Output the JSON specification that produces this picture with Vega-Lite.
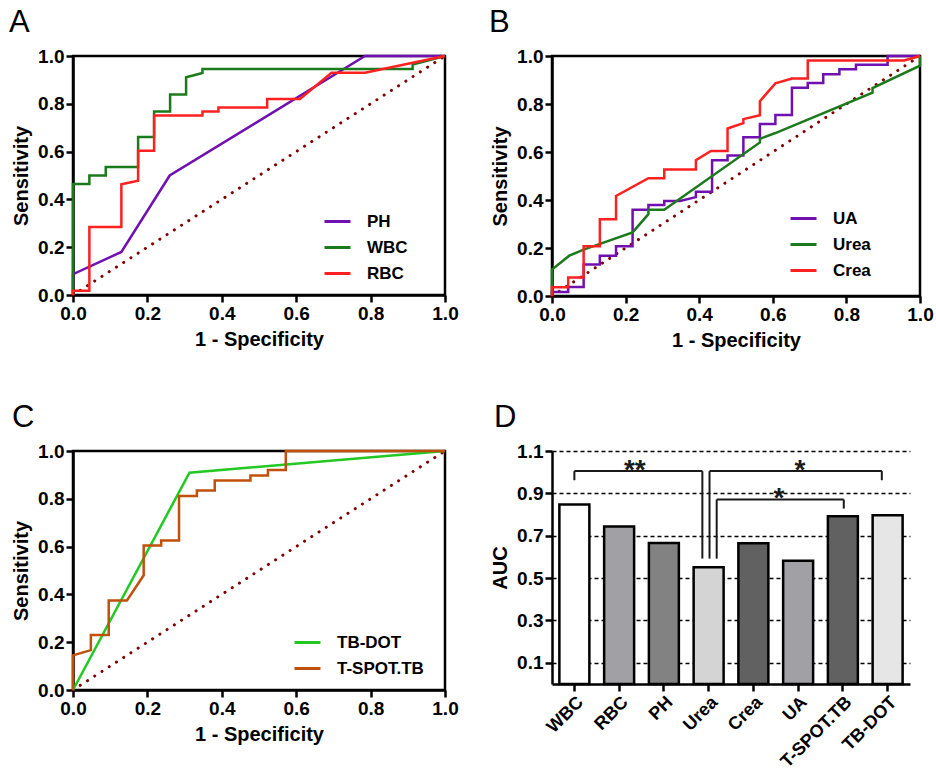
{
  "$schema": "https://vega.github.io/schema/vega-lite/v6.json",
  "autosize": {"type": "pad"},
  "padding": {"left": 7, "top": 5, "right": 0, "bottom": 0},
  "background": "white",
  "datasets": {
    "rocA": [
      {"s": "PH", "i": 0, "x": 0, "y": 0}, {"s": "PH", "i": 1, "x": 0, "y": 0.087}, {"s": "PH", "i": 2, "x": 0.13, "y": 0.18},
      {"s": "PH", "i": 3, "x": 0.26, "y": 0.5}, {"s": "PH", "i": 4, "x": 0.785, "y": 1}, {"s": "PH", "i": 5, "x": 1, "y": 1},
      {"s": "WBC", "i": 0, "x": 0, "y": 0}, {"s": "WBC", "i": 1, "x": 0, "y": 0.464}, {"s": "WBC", "i": 2, "x": 0.044, "y": 0.464},
      {"s": "WBC", "i": 3, "x": 0.044, "y": 0.5}, {"s": "WBC", "i": 4, "x": 0.088, "y": 0.5}, {"s": "WBC", "i": 5, "x": 0.088, "y": 0.536},
      {"s": "WBC", "i": 6, "x": 0.175, "y": 0.536}, {"s": "WBC", "i": 7, "x": 0.175, "y": 0.661}, {"s": "WBC", "i": 8, "x": 0.218, "y": 0.661},
      {"s": "WBC", "i": 9, "x": 0.218, "y": 0.768}, {"s": "WBC", "i": 10, "x": 0.261, "y": 0.768}, {"s": "WBC", "i": 11, "x": 0.261, "y": 0.839},
      {"s": "WBC", "i": 12, "x": 0.304, "y": 0.839}, {"s": "WBC", "i": 13, "x": 0.304, "y": 0.911}, {"s": "WBC", "i": 14, "x": 0.348, "y": 0.929},
      {"s": "WBC", "i": 15, "x": 0.348, "y": 0.946}, {"s": "WBC", "i": 16, "x": 0.913, "y": 0.946}, {"s": "WBC", "i": 17, "x": 0.913, "y": 0.964},
      {"s": "WBC", "i": 18, "x": 1, "y": 1},
      {"s": "RBC", "i": 0, "x": 0, "y": 0}, {"s": "RBC", "i": 1, "x": 0, "y": 0.018}, {"s": "RBC", "i": 2, "x": 0.044, "y": 0.018},
      {"s": "RBC", "i": 3, "x": 0.044, "y": 0.284}, {"s": "RBC", "i": 4, "x": 0.13, "y": 0.284}, {"s": "RBC", "i": 5, "x": 0.13, "y": 0.463},
      {"s": "RBC", "i": 6, "x": 0.175, "y": 0.478}, {"s": "RBC", "i": 7, "x": 0.175, "y": 0.604}, {"s": "RBC", "i": 8, "x": 0.218, "y": 0.604},
      {"s": "RBC", "i": 9, "x": 0.218, "y": 0.751}, {"s": "RBC", "i": 10, "x": 0.348, "y": 0.751}, {"s": "RBC", "i": 11, "x": 0.348, "y": 0.768},
      {"s": "RBC", "i": 12, "x": 0.391, "y": 0.768}, {"s": "RBC", "i": 13, "x": 0.391, "y": 0.784}, {"s": "RBC", "i": 14, "x": 0.522, "y": 0.784},
      {"s": "RBC", "i": 15, "x": 0.522, "y": 0.82}, {"s": "RBC", "i": 16, "x": 0.61, "y": 0.82}, {"s": "RBC", "i": 17, "x": 0.695, "y": 0.93},
      {"s": "RBC", "i": 18, "x": 0.785, "y": 0.93}, {"s": "RBC", "i": 19, "x": 1, "y": 1}
    ],
    "rocB": [
      {"s": "UA", "i": 0, "x": 0, "y": 0}, {"s": "UA", "i": 1, "x": 0, "y": 0.017}, {"s": "UA", "i": 2, "x": 0.044, "y": 0.017},
      {"s": "UA", "i": 3, "x": 0.044, "y": 0.037}, {"s": "UA", "i": 4, "x": 0.086, "y": 0.037}, {"s": "UA", "i": 5, "x": 0.086, "y": 0.131},
      {"s": "UA", "i": 6, "x": 0.13, "y": 0.131}, {"s": "UA", "i": 7, "x": 0.13, "y": 0.168}, {"s": "UA", "i": 8, "x": 0.174, "y": 0.168},
      {"s": "UA", "i": 9, "x": 0.174, "y": 0.207}, {"s": "UA", "i": 10, "x": 0.219, "y": 0.207}, {"s": "UA", "i": 11, "x": 0.219, "y": 0.359},
      {"s": "UA", "i": 12, "x": 0.262, "y": 0.359}, {"s": "UA", "i": 13, "x": 0.262, "y": 0.379}, {"s": "UA", "i": 14, "x": 0.305, "y": 0.379},
      {"s": "UA", "i": 15, "x": 0.305, "y": 0.396}, {"s": "UA", "i": 16, "x": 0.348, "y": 0.396}, {"s": "UA", "i": 17, "x": 0.391, "y": 0.412},
      {"s": "UA", "i": 18, "x": 0.391, "y": 0.434}, {"s": "UA", "i": 19, "x": 0.435, "y": 0.434}, {"s": "UA", "i": 20, "x": 0.435, "y": 0.566},
      {"s": "UA", "i": 21, "x": 0.477, "y": 0.566}, {"s": "UA", "i": 22, "x": 0.477, "y": 0.585}, {"s": "UA", "i": 23, "x": 0.52, "y": 0.585},
      {"s": "UA", "i": 24, "x": 0.52, "y": 0.661}, {"s": "UA", "i": 25, "x": 0.565, "y": 0.661}, {"s": "UA", "i": 26, "x": 0.565, "y": 0.717},
      {"s": "UA", "i": 27, "x": 0.607, "y": 0.717}, {"s": "UA", "i": 28, "x": 0.607, "y": 0.754}, {"s": "UA", "i": 29, "x": 0.652, "y": 0.754},
      {"s": "UA", "i": 30, "x": 0.652, "y": 0.868}, {"s": "UA", "i": 31, "x": 0.695, "y": 0.868}, {"s": "UA", "i": 32, "x": 0.695, "y": 0.888},
      {"s": "UA", "i": 33, "x": 0.737, "y": 0.888}, {"s": "UA", "i": 34, "x": 0.737, "y": 0.924}, {"s": "UA", "i": 35, "x": 0.781, "y": 0.924},
      {"s": "UA", "i": 36, "x": 0.781, "y": 0.945}, {"s": "UA", "i": 37, "x": 0.826, "y": 0.945}, {"s": "UA", "i": 38, "x": 0.826, "y": 0.964},
      {"s": "UA", "i": 39, "x": 0.912, "y": 0.964}, {"s": "UA", "i": 40, "x": 0.912, "y": 1}, {"s": "UA", "i": 41, "x": 1, "y": 1},
      {"s": "Urea", "i": 0, "x": 0, "y": 0}, {"s": "Urea", "i": 1, "x": 0, "y": 0.11}, {"s": "Urea", "i": 2, "x": 0.047, "y": 0.168},
      {"s": "Urea", "i": 3, "x": 0.086, "y": 0.193}, {"s": "Urea", "i": 4, "x": 0.219, "y": 0.265}, {"s": "Urea", "i": 5, "x": 0.262, "y": 0.341},
      {"s": "Urea", "i": 6, "x": 0.262, "y": 0.359}, {"s": "Urea", "i": 7, "x": 0.305, "y": 0.359}, {"s": "Urea", "i": 8, "x": 0.565, "y": 0.64},
      {"s": "Urea", "i": 9, "x": 0.565, "y": 0.655}, {"s": "Urea", "i": 10, "x": 0.607, "y": 0.679}, {"s": "Urea", "i": 11, "x": 0.871, "y": 0.847},
      {"s": "Urea", "i": 12, "x": 0.871, "y": 0.866}, {"s": "Urea", "i": 13, "x": 1, "y": 0.96}, {"s": "Urea", "i": 14, "x": 1, "y": 1},
      {"s": "Crea", "i": 0, "x": 0, "y": 0}, {"s": "Crea", "i": 1, "x": 0, "y": 0.036}, {"s": "Crea", "i": 2, "x": 0.044, "y": 0.036},
      {"s": "Crea", "i": 3, "x": 0.044, "y": 0.077}, {"s": "Crea", "i": 4, "x": 0.086, "y": 0.077}, {"s": "Crea", "i": 5, "x": 0.086, "y": 0.207},
      {"s": "Crea", "i": 6, "x": 0.13, "y": 0.207}, {"s": "Crea", "i": 7, "x": 0.13, "y": 0.32}, {"s": "Crea", "i": 8, "x": 0.174, "y": 0.32},
      {"s": "Crea", "i": 9, "x": 0.174, "y": 0.417}, {"s": "Crea", "i": 10, "x": 0.262, "y": 0.491}, {"s": "Crea", "i": 11, "x": 0.305, "y": 0.491},
      {"s": "Crea", "i": 12, "x": 0.305, "y": 0.527}, {"s": "Crea", "i": 13, "x": 0.391, "y": 0.527}, {"s": "Crea", "i": 14, "x": 0.391, "y": 0.566},
      {"s": "Crea", "i": 15, "x": 0.432, "y": 0.604}, {"s": "Crea", "i": 16, "x": 0.477, "y": 0.604}, {"s": "Crea", "i": 17, "x": 0.477, "y": 0.698},
      {"s": "Crea", "i": 18, "x": 0.52, "y": 0.72}, {"s": "Crea", "i": 19, "x": 0.52, "y": 0.737}, {"s": "Crea", "i": 20, "x": 0.565, "y": 0.753},
      {"s": "Crea", "i": 21, "x": 0.565, "y": 0.812}, {"s": "Crea", "i": 22, "x": 0.607, "y": 0.886}, {"s": "Crea", "i": 23, "x": 0.652, "y": 0.906},
      {"s": "Crea", "i": 24, "x": 0.695, "y": 0.906}, {"s": "Crea", "i": 25, "x": 0.695, "y": 0.981}, {"s": "Crea", "i": 26, "x": 0.957, "y": 0.981},
      {"s": "Crea", "i": 27, "x": 1, "y": 1}
    ],
    "rocC": [
      {"s": "TB-DOT", "i": 0, "x": 0, "y": 0}, {"s": "TB-DOT", "i": 1, "x": 0.313, "y": 0.909}, {"s": "TB-DOT", "i": 2, "x": 1, "y": 1},
      {"s": "T-SPOT.TB", "i": 0, "x": 0, "y": 0}, {"s": "T-SPOT.TB", "i": 1, "x": 0, "y": 0.145}, {"s": "T-SPOT.TB", "i": 2, "x": 0.048, "y": 0.167},
      {"s": "T-SPOT.TB", "i": 3, "x": 0.048, "y": 0.23}, {"s": "T-SPOT.TB", "i": 4, "x": 0.096, "y": 0.23}, {"s": "T-SPOT.TB", "i": 5, "x": 0.096, "y": 0.375},
      {"s": "T-SPOT.TB", "i": 6, "x": 0.145, "y": 0.375}, {"s": "T-SPOT.TB", "i": 7, "x": 0.19, "y": 0.48}, {"s": "T-SPOT.TB", "i": 8, "x": 0.19, "y": 0.605},
      {"s": "T-SPOT.TB", "i": 9, "x": 0.237, "y": 0.605}, {"s": "T-SPOT.TB", "i": 10, "x": 0.237, "y": 0.626}, {"s": "T-SPOT.TB", "i": 11, "x": 0.285, "y": 0.626},
      {"s": "T-SPOT.TB", "i": 12, "x": 0.285, "y": 0.812}, {"s": "T-SPOT.TB", "i": 13, "x": 0.333, "y": 0.812}, {"s": "T-SPOT.TB", "i": 14, "x": 0.333, "y": 0.835},
      {"s": "T-SPOT.TB", "i": 15, "x": 0.381, "y": 0.835}, {"s": "T-SPOT.TB", "i": 16, "x": 0.381, "y": 0.877}, {"s": "T-SPOT.TB", "i": 17, "x": 0.477, "y": 0.877},
      {"s": "T-SPOT.TB", "i": 18, "x": 0.477, "y": 0.898}, {"s": "T-SPOT.TB", "i": 19, "x": 0.524, "y": 0.898}, {"s": "T-SPOT.TB", "i": 20, "x": 0.524, "y": 0.92},
      {"s": "T-SPOT.TB", "i": 21, "x": 0.572, "y": 0.92}, {"s": "T-SPOT.TB", "i": 22, "x": 0.572, "y": 1}, {"s": "T-SPOT.TB", "i": 23, "x": 1, "y": 1}
    ],
    "diag": [{"x": 0, "y": 0}, {"x": 1, "y": 1}],
    "auc": [
      {"test": "WBC", "auc": 0.847}, {"test": "RBC", "auc": 0.744}, {"test": "PH", "auc": 0.666},
      {"test": "Urea", "auc": 0.551}, {"test": "Crea", "auc": 0.664}, {"test": "UA", "auc": 0.582},
      {"test": "T-SPOT.TB", "auc": 0.792}, {"test": "TB-DOT", "auc": 0.797}
    ],
    "brackets": [
      {"x": 0, "x2": 2.86, "y": 1.005, "y2": 1.005}, {"x": 0, "x2": 0, "y": 1.005, "y2": 0.962}, {"x": 2.86, "x2": 2.86, "y": 1.005, "y2": 0.592},
      {"x": 3.02, "x2": 6.87, "y": 1.005, "y2": 1.005}, {"x": 3.02, "x2": 3.02, "y": 1.005, "y2": 0.592}, {"x": 6.87, "x2": 6.87, "y": 1.005, "y2": 0.962},
      {"x": 3.18, "x2": 6.02, "y": 0.871, "y2": 0.871}, {"x": 3.18, "x2": 3.18, "y": 0.871, "y2": 0.592}, {"x": 6.02, "x2": 6.02, "y": 0.871, "y2": 0.828}
    ],
    "stars": [
      {"x": 1.35, "y": 0.968, "label": "**"}, {"x": 5.04, "y": 0.968, "label": "*"}, {"x": 4.57, "y": 0.835, "label": "*"}
    ]
  },
  "columns": 2,
  "bounds": "flush",
  "spacing": {"row": 155, "column": 107},
  "resolve": {"scale": {"color": "independent"}, "legend": {"color": "independent"}},
  "concat": [
    {
      "title": {"text": "A", "dx": -64},
      "width": 372,
      "height": 239,
      "layer": [
        {
          "data": {"name": "diag"},
          "mark": {"type": "line", "color": "#800000", "strokeWidth": 3, "strokeDash": [0.1, 8.5], "strokeCap": "round"},
          "encoding": {
            "x": {"field": "x", "type": "quantitative"},
            "y": {"field": "y", "type": "quantitative"}
          }
        },
        {
          "data": {"name": "rocA"},
          "mark": {"type": "line", "strokeWidth": 2.5},
          "encoding": {
            "x": {"field": "x", "type": "quantitative", "scale": {"domain": [0, 1], "nice": false}, "axis": {"values": [0, 0.2, 0.4, 0.6, 0.8, 1], "format": ".1f", "title": "1 - Specificity"}},
            "y": {"field": "y", "type": "quantitative", "scale": {"domain": [0, 1], "nice": false}, "axis": {"values": [0, 0.2, 0.4, 0.6, 0.8, 1], "format": ".1f", "title": "Sensitivity"}},
            "color": {"field": "s", "type": "nominal", "scale": {"domain": ["PH", "WBC", "RBC"], "range": ["#7010B0", "#1B7A1B", "#FF2020"]},
              "legend": {"title": null, "orient": "none", "legendX": 250, "legendY": 151}},
            "order": {"field": "i", "type": "quantitative"}
          }
        }
      ]
    },
    {
      "title": {"text": "B", "dx": -63},
      "width": 368,
      "height": 240,
      "layer": [
        {
          "data": {"name": "diag"},
          "mark": {"type": "line", "color": "#800000", "strokeWidth": 3, "strokeDash": [0.1, 8.5], "strokeCap": "round"},
          "encoding": {
            "x": {"field": "x", "type": "quantitative"},
            "y": {"field": "y", "type": "quantitative"}
          }
        },
        {
          "data": {"name": "rocB"},
          "mark": {"type": "line", "strokeWidth": 2.5},
          "encoding": {
            "x": {"field": "x", "type": "quantitative", "scale": {"domain": [0, 1], "nice": false}, "axis": {"values": [0, 0.2, 0.4, 0.6, 0.8, 1], "format": ".1f", "title": "1 - Specificity"}},
            "y": {"field": "y", "type": "quantitative", "scale": {"domain": [0, 1], "nice": false}, "axis": {"values": [0, 0.2, 0.4, 0.6, 0.8, 1], "format": ".1f", "title": "Sensitivity"}},
            "color": {"field": "s", "type": "nominal", "scale": {"domain": ["UA", "Urea", "Crea"], "range": ["#7010B0", "#1B7A1B", "#FF2020"]},
              "legend": {"title": null, "orient": "none", "legendX": 237, "legendY": 148}},
            "order": {"field": "i", "type": "quantitative"}
          }
        }
      ]
    },
    {
      "title": {"text": "C", "dx": -61},
      "width": 372,
      "height": 239,
      "layer": [
        {
          "data": {"name": "diag"},
          "mark": {"type": "line", "color": "#800000", "strokeWidth": 3, "strokeDash": [0.1, 8.5], "strokeCap": "round"},
          "encoding": {
            "x": {"field": "x", "type": "quantitative"},
            "y": {"field": "y", "type": "quantitative"}
          }
        },
        {
          "data": {"name": "rocC"},
          "mark": {"type": "line", "strokeWidth": 2.5},
          "encoding": {
            "x": {"field": "x", "type": "quantitative", "scale": {"domain": [0, 1], "nice": false}, "axis": {"values": [0, 0.2, 0.4, 0.6, 0.8, 1], "format": ".1f", "title": "1 - Specificity"}},
            "y": {"field": "y", "type": "quantitative", "scale": {"domain": [0, 1], "nice": false}, "axis": {"values": [0, 0.2, 0.4, 0.6, 0.8, 1], "format": ".1f", "title": "Sensitivity"}},
            "color": {"field": "s", "type": "nominal", "scale": {"domain": ["TB-DOT", "T-SPOT.TB"], "range": ["#22C922", "#C0500A"]},
              "legend": {"title": null, "orient": "none", "legendX": 220, "legendY": 177}},
            "order": {"field": "i", "type": "quantitative"}
          }
        }
      ]
    },
    {
      "title": {"text": "D", "dx": -58},
      "width": 358,
      "height": 233,
      "view": {"stroke": null},
      "layer": [
        {
          "data": {"name": "auc"},
          "mark": {"type": "bar", "stroke": "black", "strokeWidth": 2.5},
          "encoding": {
            "x": {"field": "test", "type": "nominal", "sort": null, "scale": {"paddingInner": 0.33, "paddingOuter": 0.165},
              "axis": {"title": null, "labelAngle": -45, "labelFontSize": 18, "bandPosition": 0.5}},
            "y": {"field": "auc", "type": "quantitative", "scale": {"domain": [0, 1.1], "nice": false},
              "axis": {"values": [0.1, 0.3, 0.5, 0.7, 0.9, 1.1], "format": ".1f", "title": "AUC", "grid": true, "gridColor": "black", "gridDash": [4, 3], "gridWidth": 1.5}},
            "color": {"field": "test", "type": "nominal", "legend": null,
              "scale": {"domain": ["WBC", "RBC", "PH", "Urea", "Crea", "UA", "T-SPOT.TB", "TB-DOT"],
                "range": ["#ffffff", "#a1a1a5", "#828282", "#d4d4d4", "#616161", "#a1a1a5", "#616161", "#e6e6e6"]}}
          }
        },
        {
          "data": {"name": "brackets"},
          "mark": {"type": "rule", "color": "#1a1a1a", "strokeWidth": 2},
          "encoding": {
            "x": {"field": "x", "type": "quantitative", "scale": {"domain": [-0.5, 7.5], "nice": false, "zero": false}, "axis": null},
            "x2": {"field": "x2"},
            "y": {"field": "y", "type": "quantitative"},
            "y2": {"field": "y2"}
          }
        },
        {
          "data": {"name": "stars"},
          "mark": {"type": "text", "fontSize": 28, "fontWeight": "bold", "baseline": "alphabetic", "color": "#1a1a1a"},
          "encoding": {
            "x": {"field": "x", "type": "quantitative", "scale": {"domain": [-0.5, 7.5], "nice": false, "zero": false}, "axis": null},
            "y": {"field": "y", "type": "quantitative"},
            "text": {"field": "label"}
          }
        }
      ],
      "resolve": {"scale": {"x": "independent"}, "axis": {"x": "independent"}}
    }
  ],
  "config": {
    "font": "Liberation Sans",
    "view": {"stroke": "black", "strokeWidth": 2.5},
    "title": {"fontSize": 31, "fontWeight": "normal", "anchor": "start", "frame": "group", "color": "black", "offset": 8, "font": "Liberation Sans"},
    "axis": {
      "labelFont": "Liberation Sans", "labelFontWeight": "bold", "labelFontSize": 19, "labelColor": "black", "labelPadding": 2,
      "labelFlush": false, "labelOverlap": false,
      "titleFont": "Liberation Sans", "titleFontWeight": "bold", "titleFontSize": 20, "titleColor": "black", "titlePadding": 6,
      "domainColor": "black", "domainWidth": 2.5, "tickColor": "black", "tickWidth": 2.5, "tickSize": 7, "grid": false
    },
    "legend": {
      "symbolType": "stroke", "symbolSize": 676, "symbolStrokeWidth": 3,
      "labelFont": "Liberation Sans", "labelFontSize": 17, "labelFontWeight": "bold", "labelColor": "black",
      "rowPadding": 3, "labelOffset": 15, "padding": 0
    }
  }
}
